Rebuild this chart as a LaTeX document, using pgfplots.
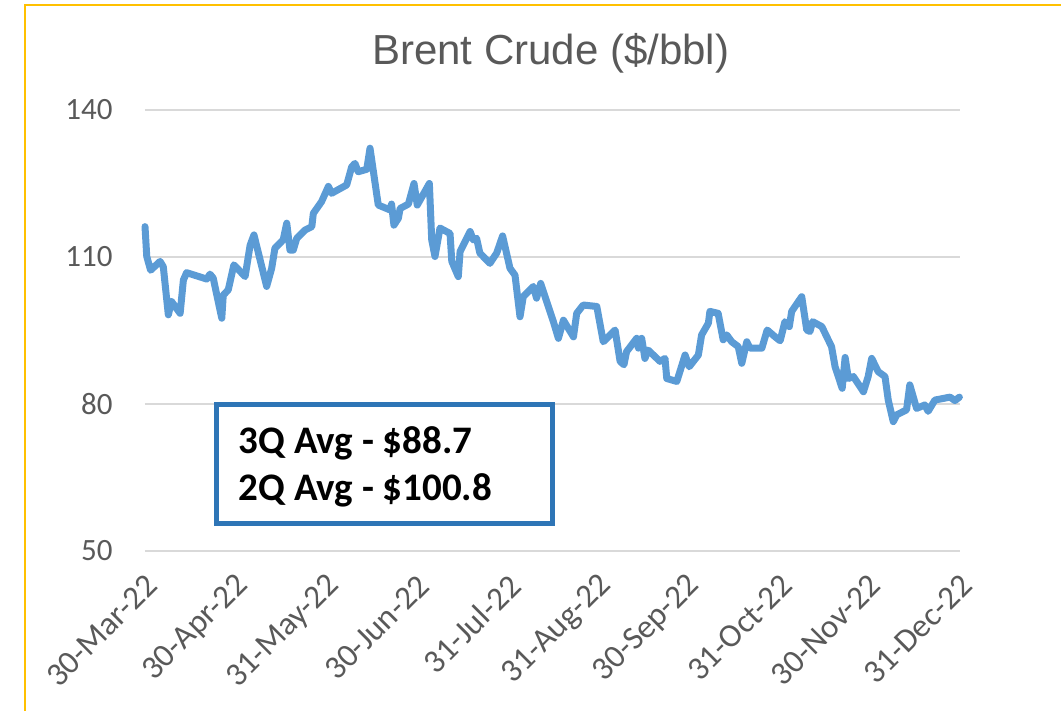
\documentclass[border=0pt]{standalone}
\usepackage{pgfplots}
\pgfplotsset{compat=1.18}
\usepackage{fontspec}
\setmainfont{Carlito}
\newfontfamily\titlefont{Liberation Sans}
\definecolor{linec}{HTML}{5B9BD5}
\definecolor{gridc}{HTML}{D9D9D9}
\definecolor{textc}{HTML}{595959}
\definecolor{goldc}{HTML}{FFC000}
\definecolor{boxc}{HTML}{2E75B6}
\begin{document}
\begin{tikzpicture}
\path[use as bounding box] (0pt,0pt) rectangle (530.5pt,355.5pt);
\draw[goldc, line width=1pt] (12.5pt,0pt) -- (12.5pt,353pt) -- (531pt,353pt);
\node[anchor=base, text=textc, font=\titlefont\fontsize{21}{25}\selectfont, inner sep=0pt] at (275.4pt,323pt) {Brent Crude (\$/bbl)};
\begin{axis}[
  at={(72.5pt,80pt)}, anchor=south west,
  scale only axis, width=407.5pt, height=220.5pt,
  xmin=0, xmax=276, ymin=50, ymax=140,
  axis line style={draw=none},
  major tick length=0pt,
  ymajorgrids, grid style={gridc, line width=1pt},
  ytick={50,80,110,140},
  xtick={0,31,62,92,123,154,184,215,245,276},
  xticklabels={30-Mar-22,30-Apr-22,31-May-22,30-Jun-22,31-Jul-22,31-Aug-22,30-Sep-22,31-Oct-22,30-Nov-22,31-Dec-22},
  ticklabel style={text=textc},
  /pgf/number format/assume math mode=true,
  yticklabel style={font=\fontsize{15.5}{18}\selectfont, anchor=east, inner sep=0pt, xshift=-16pt},
  xticklabel style={font=\fontsize{16.5}{19}\selectfont, anchor=east, inner sep=0pt, xshift=3.5pt, yshift=-14.7pt, rotate=45},
  clip=false,
]
\addplot[linec, line width=3.5pt, line join=round, line cap=round] table {
x y
0 116.2
0.6 110.1
1.9 107.3
5.1 109.1
6.2 108.0
7.9 98.2
9.0 100.9
11.9 98.5
13.0 105.3
14.1 106.8
20.9 105.5
22.0 106.5
23.1 105.7
26.0 97.5
26.5 102.2
28.2 103.3
30.1 108.4
33.9 106.0
35.6 112.4
36.9 114.5
41.2 104.0
42.9 107.7
44.0 111.8
46.8 113.5
48.0 116.9
49.1 111.4
50.2 111.4
51.4 113.8
54.2 115.5
56.5 116.2
57.0 118.9
59.8 121.3
62.1 124.4
63.2 123.0
68.3 124.7
70.0 128.4
71.1 129.1
72.2 127.4
75.1 127.9
76.2 132.2
79.0 120.6
83.0 119.6
83.5 120.8
84.3 116.5
85.8 117.9
86.4 119.9
89.2 120.8
91.1 125.0
92.2 120.6
96.3 125.0
97.1 113.5
98.2 110.1
99.9 115.9
103.3 114.8
103.9 109.1
106.1 106.0
106.7 111.1
110.1 115.2
111.2 113.5
112.3 113.8
113.4 110.8
116.8 108.7
119.1 110.8
121.1 114.3
123.6 107.7
125.3 106.3
127.0 97.8
128.1 101.9
131.5 104.0
132.6 101.6
134.0 104.6
138.3 96.8
140.0 93.4
141.7 97.1
145.1 93.7
146.2 98.5
148.4 100.2
153.0 99.9
155.2 92.7
159.2 95.1
160.9 88.7
162.2 88.0
163.1 90.7
166.5 93.4
167.1 91.4
168.2 93.4
169.3 89.3
170.4 91.0
174.4 88.7
176.1 89.3
176.7 85.2
180.1 84.6
182.9 90.0
184.3 87.6
187.4 90.0
188.5 94.1
190.8 96.5
191.3 98.9
194.1 98.5
195.8 93.1
197.0 94.1
198.7 92.7
200.9 91.7
202.1 88.3
203.8 92.7
204.9 91.4
208.9 91.4
210.7 95.1
213.4 93.7
215.1 92.9
216.7 96.8
218.2 95.8
219.0 98.9
222.4 101.9
224.1 95.1
225.2 94.8
226.1 96.8
229.2 95.8
232.5 91.7
233.7 87.6
236.1 83.2
237.1 89.5
238.2 85.2
239.9 85.6
243.3 82.5
244.9 85.6
246.1 89.3
248.3 86.6
250.6 85.6
251.7 80.8
253.4 76.4
254.6 77.8
257.9 78.8
259.0 83.9
261.3 79.1
264.1 79.8
265.2 78.5
267.5 80.8
272.6 81.4
274.3 80.7
275.8 81.4
};
\end{axis}
\draw[boxc, line width=2.5pt, fill=white] (108.35pt,93.85pt) rectangle (276.35pt,153pt);
\node[anchor=base west, inner sep=0pt, font=\bfseries\fontsize{19.5}{23}\selectfont] at (119.2pt,128.8pt) {3Q Avg - \$88.7};
\node[anchor=base west, inner sep=0pt, font=\bfseries\fontsize{19.5}{23}\selectfont] at (119.2pt,105.2pt) {2Q Avg - \$100.8};
\end{tikzpicture}
\end{document}
